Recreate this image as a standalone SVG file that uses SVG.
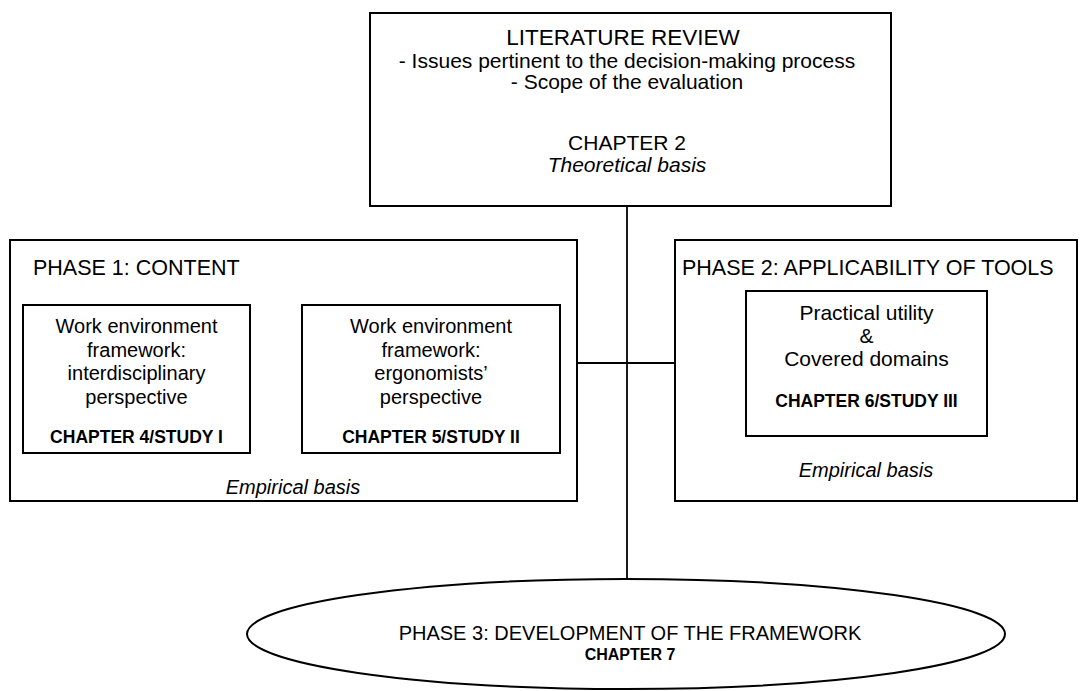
<svg xmlns="http://www.w3.org/2000/svg" width="1083" height="691" viewBox="0 0 1083 691">
<style>
.box{fill:#fff;stroke:#000;stroke-width:2}
.ln{fill:none;stroke:#000;stroke-width:1.8}
text{font-family:"Liberation Sans",Arial,sans-serif;fill:#000}
.c{text-anchor:middle}
.t{font-size:20px}
.t2{font-size:21px}
.h{font-size:21.5px}
.big{font-size:22.5px}
.b{font-size:17.5px;font-weight:bold}
.i{font-style:italic}
</style>
<rect width="1083" height="691" fill="#fff"/>
<g id="connectors">
<line class="ln" x1="627" y1="206" x2="627" y2="579"/>
<line class="ln" x1="577" y1="363" x2="675" y2="363"/>
<line class="ln" x1="250" y1="386" x2="302" y2="386"/>
</g>
<g id="literature-review">
<rect class="box" x="370" y="13" width="521" height="193"/>
<text class="big c" x="623" y="45">LITERATURE REVIEW</text>
<text class="t2 c" x="627" y="68">- Issues pertinent to the decision-making process</text>
<text class="t2 c" x="627" y="89">- Scope of the evaluation</text>
<text class="t2 c" x="627" y="150">CHAPTER 2</text>
<text class="t2 c i" x="627" y="172">Theoretical basis</text>
</g>
<g id="phase1">
<rect class="box" x="10" y="240" width="567" height="261"/>
<text class="h" x="33" y="275">PHASE 1: CONTENT</text>
<text class="t c i" x="293" y="494">Empirical basis</text>
</g>
<g id="study1">
<rect class="box" x="23" y="305" width="227" height="148"/>
<text class="t c" x="136.5" y="333">Work environment</text>
<text class="t c" x="136.5" y="357">framework:</text>
<text class="t c" x="136.5" y="380">interdisciplinary</text>
<text class="t c" x="136.5" y="404">perspective</text>
<text class="b c" x="136.5" y="443">CHAPTER 4/STUDY I</text>
</g>
<g id="study2">
<rect class="box" x="302" y="305" width="258" height="148"/>
<text class="t c" x="431" y="333">Work environment</text>
<text class="t c" x="431" y="357">framework:</text>
<text class="t c" x="431" y="380">ergonomists’</text>
<text class="t c" x="431" y="404">perspective</text>
<text class="b c" x="431" y="443">CHAPTER 5/STUDY II</text>
</g>
<g id="phase2">
<rect class="box" x="675" y="240" width="402" height="261"/>
<text class="h" x="682" y="275">PHASE 2: APPLICABILITY OF TOOLS</text>
<text class="t c i" x="866" y="477">Empirical basis</text>
</g>
<g id="study3">
<rect class="box" x="746" y="291" width="241" height="145"/>
<text class="t2 c" x="866.5" y="320">Practical utility</text>
<text class="t2 c" x="866.5" y="343">&amp;</text>
<text class="t2 c" x="866.5" y="366">Covered domains</text>
<text class="b c" x="866.5" y="407">CHAPTER 6/STUDY III</text>
</g>
<g id="phase3">
<ellipse class="box" cx="626" cy="634" rx="379" ry="55"/>
<text class="t c" x="630" y="640">PHASE 3: DEVELOPMENT OF THE FRAMEWORK</text>
<text class="b c" x="630" y="660" style="font-size:16px">CHAPTER 7</text>
</g>
</svg>
